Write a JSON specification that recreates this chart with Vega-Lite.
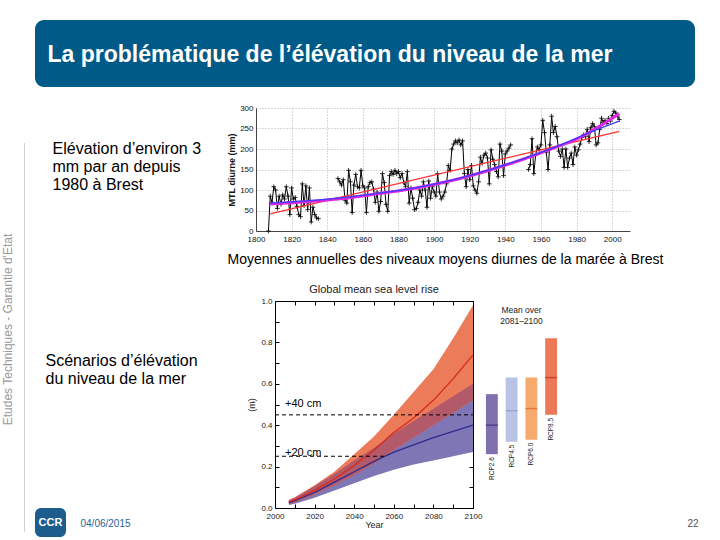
{
  "$schema": "https://vega.github.io/schema/vega-lite/v6.json",
  "padding": 0,
  "background": "white",
  "config": {
    "view": {"stroke": null},
    "concat": {"spacing": 0},
    "font": "Liberation Sans",
    "text": {"font": "Liberation Sans"},
    "title": {"font": "Liberation Sans"},
    "axis": {"labelFont": "Liberation Sans", "titleFont": "Liberation Sans", "labelOverlap": false, "labelFlush": false}
  },
  "datasets": {
    "brest": [
      {"year": 1807, "mtl": 0, "seg": 1}, {"year": 1808, "mtl": 85, "seg": 1}, {"year": 1809, "mtl": 70, "seg": 1}, {"year": 1810, "mtl": 108, "seg": 1},
      {"year": 1811, "mtl": 100, "seg": 1}, {"year": 1812, "mtl": 55, "seg": 1}, {"year": 1813, "mtl": 85, "seg": 1}, {"year": 1814, "mtl": 65, "seg": 1},
      {"year": 1815, "mtl": 88, "seg": 1}, {"year": 1816, "mtl": 78, "seg": 1}, {"year": 1817, "mtl": 108, "seg": 1}, {"year": 1818, "mtl": 85, "seg": 1},
      {"year": 1819, "mtl": 40, "seg": 1}, {"year": 1820, "mtl": 105, "seg": 1}, {"year": 1821, "mtl": 78, "seg": 1}, {"year": 1822, "mtl": 82, "seg": 1},
      {"year": 1823, "mtl": 60, "seg": 1}, {"year": 1824, "mtl": 40, "seg": 1}, {"year": 1825, "mtl": 35, "seg": 1}, {"year": 1826, "mtl": 115, "seg": 1},
      {"year": 1827, "mtl": 62, "seg": 1}, {"year": 1828, "mtl": 110, "seg": 1}, {"year": 1829, "mtl": 52, "seg": 1}, {"year": 1830, "mtl": 105, "seg": 1},
      {"year": 1831, "mtl": 22, "seg": 1}, {"year": 1832, "mtl": 58, "seg": 1}, {"year": 1833, "mtl": 40, "seg": 1}, {"year": 1834, "mtl": 32, "seg": 1},
      {"year": 1835, "mtl": 30, "seg": 1},
      {"year": 1846, "mtl": 128, "seg": 2}, {"year": 1847, "mtl": 120, "seg": 2}, {"year": 1848, "mtl": 112, "seg": 2}, {"year": 1849, "mtl": 125, "seg": 2},
      {"year": 1850, "mtl": 75, "seg": 2}, {"year": 1851, "mtl": 68, "seg": 2}, {"year": 1852, "mtl": 148, "seg": 2}, {"year": 1853, "mtl": 120, "seg": 2},
      {"year": 1854, "mtl": 45, "seg": 2}, {"year": 1855, "mtl": 112, "seg": 2}, {"year": 1856, "mtl": 138, "seg": 2}, {"year": 1857, "mtl": 108, "seg": 2},
      {"year": 1858, "mtl": 105, "seg": 2}, {"year": 1859, "mtl": 148, "seg": 2}, {"year": 1860, "mtl": 110, "seg": 2}, {"year": 1861, "mtl": 105, "seg": 2},
      {"year": 1862, "mtl": 45, "seg": 2}, {"year": 1863, "mtl": 108, "seg": 2}, {"year": 1864, "mtl": 118, "seg": 2}, {"year": 1865, "mtl": 120, "seg": 2},
      {"year": 1866, "mtl": 102, "seg": 2}, {"year": 1867, "mtl": 70, "seg": 2}, {"year": 1868, "mtl": 95, "seg": 2}, {"year": 1869, "mtl": 48, "seg": 2},
      {"year": 1870, "mtl": 72, "seg": 2}, {"year": 1871, "mtl": 140, "seg": 2}, {"year": 1872, "mtl": 118, "seg": 2}, {"year": 1873, "mtl": 65, "seg": 2},
      {"year": 1874, "mtl": 48, "seg": 2}, {"year": 1875, "mtl": 135, "seg": 2}, {"year": 1876, "mtl": 145, "seg": 2}, {"year": 1877, "mtl": 138, "seg": 2},
      {"year": 1878, "mtl": 148, "seg": 2}, {"year": 1879, "mtl": 140, "seg": 2}, {"year": 1880, "mtl": 145, "seg": 2}, {"year": 1881, "mtl": 130, "seg": 2},
      {"year": 1882, "mtl": 140, "seg": 2}, {"year": 1883, "mtl": 118, "seg": 2}, {"year": 1884, "mtl": 108, "seg": 2}, {"year": 1885, "mtl": 145, "seg": 2},
      {"year": 1886, "mtl": 68, "seg": 2}, {"year": 1887, "mtl": 105, "seg": 2}, {"year": 1888, "mtl": 80, "seg": 2}, {"year": 1889, "mtl": 52, "seg": 2},
      {"year": 1890, "mtl": 55, "seg": 2}, {"year": 1891, "mtl": 70, "seg": 2}, {"year": 1892, "mtl": 100, "seg": 2}, {"year": 1893, "mtl": 85, "seg": 2},
      {"year": 1894, "mtl": 120, "seg": 2}, {"year": 1895, "mtl": 100, "seg": 2}, {"year": 1896, "mtl": 58, "seg": 2}, {"year": 1897, "mtl": 122, "seg": 2},
      {"year": 1898, "mtl": 80, "seg": 2}, {"year": 1899, "mtl": 108, "seg": 2}, {"year": 1900, "mtl": 95, "seg": 2}, {"year": 1901, "mtl": 85, "seg": 2},
      {"year": 1902, "mtl": 140, "seg": 2}, {"year": 1903, "mtl": 95, "seg": 2}, {"year": 1904, "mtl": 78, "seg": 2}, {"year": 1905, "mtl": 85, "seg": 2},
      {"year": 1906, "mtl": 95, "seg": 2}, {"year": 1907, "mtl": 115, "seg": 2}, {"year": 1908, "mtl": 160, "seg": 2}, {"year": 1909, "mtl": 148, "seg": 2},
      {"year": 1910, "mtl": 200, "seg": 2}, {"year": 1911, "mtl": 212, "seg": 2}, {"year": 1912, "mtl": 220, "seg": 2}, {"year": 1913, "mtl": 215, "seg": 2},
      {"year": 1914, "mtl": 222, "seg": 2}, {"year": 1915, "mtl": 210, "seg": 2}, {"year": 1916, "mtl": 220, "seg": 2}, {"year": 1917, "mtl": 140, "seg": 2},
      {"year": 1918, "mtl": 108, "seg": 2}, {"year": 1919, "mtl": 150, "seg": 2}, {"year": 1920, "mtl": 125, "seg": 2}, {"year": 1921, "mtl": 160, "seg": 2},
      {"year": 1922, "mtl": 110, "seg": 2}, {"year": 1923, "mtl": 100, "seg": 2}, {"year": 1924, "mtl": 92, "seg": 2}, {"year": 1925, "mtl": 120, "seg": 2},
      {"year": 1926, "mtl": 180, "seg": 2}, {"year": 1927, "mtl": 165, "seg": 2}, {"year": 1928, "mtl": 185, "seg": 2}, {"year": 1929, "mtl": 190, "seg": 2},
      {"year": 1930, "mtl": 178, "seg": 2}, {"year": 1931, "mtl": 115, "seg": 2}, {"year": 1932, "mtl": 198, "seg": 2}, {"year": 1933, "mtl": 175, "seg": 2},
      {"year": 1934, "mtl": 162, "seg": 2}, {"year": 1935, "mtl": 145, "seg": 2}, {"year": 1936, "mtl": 132, "seg": 2}, {"year": 1937, "mtl": 212, "seg": 2},
      {"year": 1938, "mtl": 195, "seg": 2}, {"year": 1939, "mtl": 135, "seg": 2}, {"year": 1940, "mtl": 188, "seg": 2}, {"year": 1941, "mtl": 195, "seg": 2},
      {"year": 1942, "mtl": 202, "seg": 2}, {"year": 1943, "mtl": 210, "seg": 2},
      {"year": 1953, "mtl": 150, "seg": 3}, {"year": 1954, "mtl": 162, "seg": 3}, {"year": 1955, "mtl": 225, "seg": 3}, {"year": 1956, "mtl": 140, "seg": 3},
      {"year": 1957, "mtl": 185, "seg": 3}, {"year": 1958, "mtl": 205, "seg": 3}, {"year": 1959, "mtl": 198, "seg": 3}, {"year": 1960, "mtl": 210, "seg": 3},
      {"year": 1961, "mtl": 270, "seg": 3}, {"year": 1962, "mtl": 240, "seg": 3}, {"year": 1963, "mtl": 192, "seg": 3}, {"year": 1964, "mtl": 150, "seg": 3},
      {"year": 1965, "mtl": 210, "seg": 3}, {"year": 1966, "mtl": 280, "seg": 3}, {"year": 1967, "mtl": 240, "seg": 3}, {"year": 1968, "mtl": 255, "seg": 3},
      {"year": 1969, "mtl": 230, "seg": 3}, {"year": 1970, "mtl": 195, "seg": 3}, {"year": 1971, "mtl": 182, "seg": 3}, {"year": 1972, "mtl": 200, "seg": 3},
      {"year": 1973, "mtl": 155, "seg": 3}, {"year": 1974, "mtl": 200, "seg": 3}, {"year": 1975, "mtl": 155, "seg": 3}, {"year": 1976, "mtl": 178, "seg": 3},
      {"year": 1977, "mtl": 190, "seg": 3}, {"year": 1978, "mtl": 162, "seg": 3}, {"year": 1979, "mtl": 205, "seg": 3}, {"year": 1980, "mtl": 185, "seg": 3},
      {"year": 1981, "mtl": 198, "seg": 3}, {"year": 1982, "mtl": 212, "seg": 3}, {"year": 1983, "mtl": 228, "seg": 3}, {"year": 1984, "mtl": 235, "seg": 3},
      {"year": 1985, "mtl": 230, "seg": 3}, {"year": 1986, "mtl": 248, "seg": 3}, {"year": 1987, "mtl": 218, "seg": 3}, {"year": 1988, "mtl": 252, "seg": 3},
      {"year": 1989, "mtl": 262, "seg": 3}, {"year": 1990, "mtl": 255, "seg": 3}, {"year": 1991, "mtl": 210, "seg": 3}, {"year": 1992, "mtl": 215, "seg": 3},
      {"year": 1993, "mtl": 248, "seg": 3}, {"year": 1994, "mtl": 275, "seg": 3}, {"year": 1995, "mtl": 265, "seg": 3}, {"year": 1996, "mtl": 270, "seg": 3},
      {"year": 1997, "mtl": 262, "seg": 3}, {"year": 1998, "mtl": 275, "seg": 3}, {"year": 1999, "mtl": 268, "seg": 3}, {"year": 2000, "mtl": 282, "seg": 3},
      {"year": 2001, "mtl": 292, "seg": 3}, {"year": 2002, "mtl": 288, "seg": 3}, {"year": 2003, "mtl": 280, "seg": 3}, {"year": 2004, "mtl": 272, "seg": 3}
    ],
    "trends": [
      {"year": 1808, "fit": "linear", "v": 42}, {"year": 2004, "fit": "linear", "v": 243},
      {"year": 1808, "fit": "quad", "v": 68}, {"year": 1830, "fit": "quad", "v": 74}, {"year": 1850, "fit": "quad", "v": 82}, {"year": 1870, "fit": "quad", "v": 93},
      {"year": 1890, "fit": "quad", "v": 106}, {"year": 1910, "fit": "quad", "v": 124}, {"year": 1930, "fit": "quad", "v": 148}, {"year": 1950, "fit": "quad", "v": 176},
      {"year": 1970, "fit": "quad", "v": 208}, {"year": 1990, "fit": "quad", "v": 245}, {"year": 2004, "fit": "quad", "v": 268},
      {"year": 1808, "fit": "smooth", "v": 66}, {"year": 1830, "fit": "smooth", "v": 72}, {"year": 1850, "fit": "smooth", "v": 80}, {"year": 1870, "fit": "smooth", "v": 92},
      {"year": 1890, "fit": "smooth", "v": 105}, {"year": 1910, "fit": "smooth", "v": 123}, {"year": 1930, "fit": "smooth", "v": 147}, {"year": 1950, "fit": "smooth", "v": 175},
      {"year": 1970, "fit": "smooth", "v": 207}, {"year": 1980, "fit": "smooth", "v": 224}, {"year": 1990, "fit": "smooth", "v": 248}, {"year": 2004, "fit": "smooth", "v": 286}
    ],
    "proj": [
      {"year": 2007, "scenario": "RCP2.6", "lo": 0.015, "med": 0.025, "hi": 0.035},
      {"year": 2010, "scenario": "RCP2.6", "lo": 0.02, "med": 0.035, "hi": 0.05},
      {"year": 2020, "scenario": "RCP2.6", "lo": 0.05, "med": 0.075, "hi": 0.105},
      {"year": 2030, "scenario": "RCP2.6", "lo": 0.085, "med": 0.125, "hi": 0.165},
      {"year": 2040, "scenario": "RCP2.6", "lo": 0.12, "med": 0.175, "hi": 0.23},
      {"year": 2050, "scenario": "RCP2.6", "lo": 0.155, "med": 0.225, "hi": 0.29},
      {"year": 2060, "scenario": "RCP2.6", "lo": 0.185, "med": 0.27, "hi": 0.36},
      {"year": 2070, "scenario": "RCP2.6", "lo": 0.21, "med": 0.305, "hi": 0.42},
      {"year": 2080, "scenario": "RCP2.6", "lo": 0.23, "med": 0.34, "hi": 0.48},
      {"year": 2090, "scenario": "RCP2.6", "lo": 0.25, "med": 0.37, "hi": 0.54},
      {"year": 2100, "scenario": "RCP2.6", "lo": 0.27, "med": 0.40, "hi": 0.60},
      {"year": 2007, "scenario": "RCP8.5", "lo": 0.02, "med": 0.03, "hi": 0.04},
      {"year": 2010, "scenario": "RCP8.5", "lo": 0.028, "med": 0.04, "hi": 0.052},
      {"year": 2020, "scenario": "RCP8.5", "lo": 0.065, "med": 0.085, "hi": 0.11},
      {"year": 2030, "scenario": "RCP8.5", "lo": 0.11, "med": 0.14, "hi": 0.175},
      {"year": 2040, "scenario": "RCP8.5", "lo": 0.16, "med": 0.205, "hi": 0.26},
      {"year": 2050, "scenario": "RCP8.5", "lo": 0.215, "med": 0.28, "hi": 0.345},
      {"year": 2060, "scenario": "RCP8.5", "lo": 0.28, "med": 0.365, "hi": 0.45},
      {"year": 2070, "scenario": "RCP8.5", "lo": 0.34, "med": 0.435, "hi": 0.56},
      {"year": 2080, "scenario": "RCP8.5", "lo": 0.40, "med": 0.52, "hi": 0.67},
      {"year": 2090, "scenario": "RCP8.5", "lo": 0.46, "med": 0.625, "hi": 0.82},
      {"year": 2100, "scenario": "RCP8.5", "lo": 0.52, "med": 0.74, "hi": 0.98}
    ],
    "overlap": [
      {"year": 2007, "lo": 0.02, "hi": 0.035}, {"year": 2010, "lo": 0.028, "hi": 0.05}, {"year": 2020, "lo": 0.065, "hi": 0.105},
      {"year": 2030, "lo": 0.11, "hi": 0.165}, {"year": 2040, "lo": 0.16, "hi": 0.23}, {"year": 2050, "lo": 0.215, "hi": 0.29},
      {"year": 2060, "lo": 0.28, "hi": 0.36}, {"year": 2070, "lo": 0.34, "hi": 0.42}, {"year": 2080, "lo": 0.40, "hi": 0.48},
      {"year": 2090, "lo": 0.46, "hi": 0.54}, {"year": 2100, "lo": 0.52, "hi": 0.60}
    ],
    "levels": [
      {"label": "+40 cm", "level": 0.45, "x0": 2000, "x1": 2100},
      {"label": "+20 cm", "level": 0.25, "x0": 2000, "x1": 2055}
    ],
    "boxes": [
      {"scenario": "RCP2.6", "lo": 0.26, "med": 0.40, "hi": 0.55},
      {"scenario": "RCP4.5", "lo": 0.32, "med": 0.47, "hi": 0.63},
      {"scenario": "RCP6.0", "lo": 0.33, "med": 0.48, "hi": 0.63},
      {"scenario": "RCP8.5", "lo": 0.45, "med": 0.63, "hi": 0.82}
    ]
  },
  "bounds": "flush",
  "spacing": 0,
  "vconcat": [
    {"bounds": "flush", "spacing": 0, "vconcat": [
      {"width": 1, "height": 20, "data": {"values": [{}]}, "mark": {"type": "rect", "opacity": 0}, "encoding": {}},
      {"bounds": "flush", "spacing": 0, "hconcat": [
        {"width": 35, "height": 1, "data": {"values": [{}]}, "mark": {"type": "rect", "opacity": 0}, "encoding": {}},
        {"width": 660, "height": 67, "data": {"values": [{}]}, "mark": {"type": "rect", "color": "#005a87", "cornerRadius": 9}, "encoding": {}}
      ]}
    ]},
    {"bounds": "flush", "spacing": 0, "vconcat": [
      {"width": 1, "height": 61, "data": {"values": [{}]}, "mark": {"type": "rect", "opacity": 0}, "encoding": {}},
      {"bounds": "flush", "spacing": 0, "hconcat": [
        {"width": 47, "height": 1, "data": {"values": [{}]}, "mark": {"type": "rect", "opacity": 0}, "encoding": {}},
        {"width": 1, "height": 1, "data": {"values": [{}]}, "mark": {"type": "text", "text": "La problématique de l’élévation du niveau de la mer", "align": "left", "baseline": "alphabetic", "fontSize": 23, "fontWeight": "bold", "color": "white"}, "encoding": {}}
      ]}
    ]},
    {"bounds": "flush", "spacing": 0, "vconcat": [
      {"width": 1, "height": 329, "data": {"values": [{}]}, "mark": {"type": "rect", "opacity": 0}, "encoding": {}},
      {"width": 16, "height": 1, "data": {"values": [{}]}, "mark": {"type": "text", "text": "Etudes Techniques - Garantie d'Etat", "angle": 270, "align": "center", "baseline": "middle", "fontSize": 12, "color": "#9a9a9a"}, "encoding": {}}
    ]},
    {"bounds": "flush", "spacing": 0, "vconcat": [
      {"width": 1, "height": 143, "data": {"values": [{}]}, "mark": {"type": "rect", "opacity": 0}, "encoding": {}},
      {"bounds": "flush", "spacing": 0, "hconcat": [
        {"width": 24, "height": 1, "data": {"values": [{}]}, "mark": {"type": "rect", "opacity": 0}, "encoding": {}},
        {"width": 1, "height": 389, "data": {"values": [{}]}, "mark": {"type": "rect", "color": "#cfcfcf"}, "encoding": {}}
      ]}
    ]},
    {"bounds": "flush", "spacing": 0, "vconcat": [
      {"width": 1, "height": 153, "data": {"values": [{}]}, "mark": {"type": "rect", "opacity": 0}, "encoding": {}},
      {"bounds": "flush", "spacing": 0, "hconcat": [
        {"width": 52, "height": 1, "data": {"values": [{}]}, "mark": {"type": "rect", "opacity": 0}, "encoding": {}},
        {"width": 1, "height": 1, "data": {"values": [{}]}, "mark": {"type": "text", "text": ["Elévation d’environ 3", "mm par an depuis", "1980 à Brest"], "align": "left", "baseline": "alphabetic", "fontSize": 16, "lineHeight": 18, "color": "black"}, "encoding": {}}
      ]}
    ]},
    {"bounds": "flush", "spacing": 0, "vconcat": [
      {"width": 1, "height": 365, "data": {"values": [{}]}, "mark": {"type": "rect", "opacity": 0}, "encoding": {}},
      {"bounds": "flush", "spacing": 0, "hconcat": [
        {"width": 45, "height": 1, "data": {"values": [{}]}, "mark": {"type": "rect", "opacity": 0}, "encoding": {}},
        {"width": 1, "height": 1, "data": {"values": [{}]}, "mark": {"type": "text", "text": ["Scénarios d’élévation", "du niveau de la mer"], "align": "left", "baseline": "alphabetic", "fontSize": 16, "lineHeight": 18, "color": "black"}, "encoding": {}}
      ]}
    ]},
    {"bounds": "flush", "spacing": 0, "vconcat": [
      {"width": 1, "height": 108, "data": {"values": [{}]}, "mark": {"type": "rect", "opacity": 0}, "encoding": {}},
      {"bounds": "flush", "spacing": 0, "hconcat": [
        {"width": 256, "height": 1, "data": {"values": [{}]}, "mark": {"type": "rect", "opacity": 0}, "encoding": {}},
        {
          "width": 374, "height": 123,
          "resolve": {"axis": {"x": "independent", "y": "independent"}},
          "layer": [
            {"data": {"name": "brest"}, "mark": {"type": "line", "color": "black", "strokeWidth": 1},
             "encoding": {
               "x": {"field": "year", "type": "quantitative", "scale": {"domain": [1800, 2010], "nice": false, "zero": false},
                     "axis": {"orient": "bottom", "values": [1800, 1820, 1840, 1860, 1880, 1900, 1920, 1940, 1960, 1980, 2000], "format": "d", "grid": true, "gridColor": "#b0b0b0", "gridDash": [1, 2], "ticks": false, "labelFontSize": 8, "labelColor": "#111", "labelPadding": 4, "labelFlush": false, "labelOverlap": false, "domainColor": "#444", "title": null}},
               "y": {"field": "mtl", "type": "quantitative", "scale": {"domain": [0, 300], "nice": false},
                     "axis": {"orient": "left", "values": [0, 50, 100, 150, 200, 250, 300], "format": "d", "grid": true, "gridColor": "#b0b0b0", "gridDash": [1, 2], "ticks": false, "labelFontSize": 8, "labelColor": "#111", "labelPadding": 3, "labelOverlap": false, "labelBaseline": "middle", "domainColor": "#444", "title": "MTL diurne (mm)", "titleFontSize": 9, "titleFontWeight": "bold", "titleColor": "#111", "titlePadding": 3}},
               "detail": {"field": "seg", "type": "nominal"}
             }},
            {"data": {"name": "brest"}, "mark": {"type": "point", "shape": "M-1,0H1M0,-1V1", "size": 22, "color": "black", "strokeWidth": 0.8, "filled": false, "opacity": 1},
             "encoding": {"x": {"field": "year", "type": "quantitative", "axis": null}, "y": {"field": "mtl", "type": "quantitative", "axis": null}}},
            {"data": {"name": "trends"}, "transform": [{"filter": "datum.fit == 'linear'"}], "mark": {"type": "line", "color": "#ff3030", "strokeWidth": 1.3},
             "encoding": {"x": {"field": "year", "type": "quantitative", "axis": null}, "y": {"field": "v", "type": "quantitative", "axis": null}}},
            {"data": {"name": "trends"}, "transform": [{"filter": "datum.fit == 'smooth'"}], "mark": {"type": "line", "color": "#e028e0", "strokeWidth": 3, "interpolate": "monotone"},
             "encoding": {"x": {"field": "year", "type": "quantitative", "axis": null}, "y": {"field": "v", "type": "quantitative", "axis": null}}},
            {"data": {"name": "trends"}, "transform": [{"filter": "datum.fit == 'quad'"}], "mark": {"type": "line", "color": "#3c3cff", "strokeWidth": 1.3, "interpolate": "monotone"},
             "encoding": {"x": {"field": "year", "type": "quantitative", "axis": null}, "y": {"field": "v", "type": "quantitative", "axis": null}}}
          ]
        }
      ]}
    ]},
    {"bounds": "flush", "spacing": 0, "vconcat": [
      {"width": 1, "height": 263, "data": {"values": [{}]}, "mark": {"type": "rect", "opacity": 0}, "encoding": {}},
      {"bounds": "flush", "spacing": 0, "hconcat": [
        {"width": 227, "height": 1, "data": {"values": [{}]}, "mark": {"type": "rect", "opacity": 0}, "encoding": {}},
        {"width": 1, "height": 1, "data": {"values": [{}]}, "mark": {"type": "text", "text": "Moyennes annuelles des niveaux moyens diurnes de la marée à Brest", "align": "left", "baseline": "alphabetic", "fontSize": 14, "color": "black"}, "encoding": {}}
      ]}
    ]},
    {"bounds": "flush", "spacing": 0, "vconcat": [
      {"width": 1, "height": 301, "data": {"values": [{}]}, "mark": {"type": "rect", "opacity": 0}, "encoding": {}},
      {"bounds": "flush", "spacing": 0, "hconcat": [
        {"width": 275, "height": 1, "data": {"values": [{}]}, "mark": {"type": "rect", "opacity": 0}, "encoding": {}},
        {
          "width": 198, "height": 207,
          "view": {"stroke": "black", "strokeWidth": 1},
          "title": {"text": "Global mean sea level rise", "fontSize": 11, "fontWeight": "normal", "color": "#222", "offset": 2, "frame": "group"},
          "resolve": {"axis": {"x": "independent", "y": "independent"}},
          "layer": [
            {"data": {"name": "proj"}, "transform": [{"filter": "datum.scenario == 'RCP2.6'"}], "mark": {"type": "area", "color": "#7f76b5", "opacity": 1},
             "encoding": {
               "x": {"field": "year", "type": "quantitative", "scale": {"domain": [2000, 2100], "nice": false, "zero": false},
                     "axis": {"orient": "bottom", "values": [2000, 2010, 2020, 2030, 2040, 2050, 2060, 2070, 2080, 2090, 2100], "format": "d", "labelExpr": "datum.value % 20 == 0 ? datum.label : ''", "tickSize": -4, "tickColor": "black", "labelPadding": 8, "labelFontSize": 8, "labelColor": "#222", "labelFlush": false, "labelOverlap": false, "domain": false, "grid": false, "title": "Year", "titleFontSize": 9, "titleFontWeight": "normal", "titleColor": "#222", "titlePadding": 0}},
               "y": {"field": "lo", "type": "quantitative", "scale": {"domain": [0, 1], "nice": false},
                     "axis": {"orient": "left", "values": [0, 0.1, 0.2, 0.3, 0.4, 0.5, 0.6, 0.7, 0.8, 0.9, 1.0], "labelExpr": "round(datum.value * 10) % 2 == 0 ? format(datum.value, '.1f') : ''", "tickSize": -4, "tickColor": "black", "labelPadding": 7, "labelFontSize": 8, "labelColor": "#222", "labelOverlap": false, "labelBaseline": "middle", "domain": false, "grid": false, "title": "(m)", "titleFontSize": 9, "titleFontWeight": "normal", "titleColor": "#222", "titlePadding": 4}},
               "y2": {"field": "hi"}
             }},
            {"data": {"name": "proj"}, "transform": [{"filter": "datum.scenario == 'RCP8.5'"}], "mark": {"type": "area", "color": "#ec7b5a", "opacity": 1},
             "encoding": {"x": {"field": "year", "type": "quantitative", "axis": null}, "y": {"field": "lo", "type": "quantitative", "axis": null}, "y2": {"field": "hi"}}},
            {"data": {"name": "overlap"}, "mark": {"type": "area", "color": "#b35a6a", "opacity": 1},
             "encoding": {"x": {"field": "year", "type": "quantitative", "axis": null}, "y": {"field": "lo", "type": "quantitative", "axis": null}, "y2": {"field": "hi"}}},
            {"data": {"name": "proj"}, "mark": {"type": "line", "strokeWidth": 1.3},
             "encoding": {"x": {"field": "year", "type": "quantitative", "axis": null}, "y": {"field": "med", "type": "quantitative", "axis": null},
                          "color": {"field": "scenario", "type": "nominal", "scale": {"domain": ["RCP2.6", "RCP8.5"], "range": ["#2c2c8c", "#d8281c"]}, "legend": null}}},
            {"data": {"name": "levels"}, "mark": {"type": "rule", "strokeDash": [4, 3], "color": "black", "strokeWidth": 1},
             "encoding": {
               "x": {"field": "x0", "type": "quantitative", "axis": {"orient": "top", "values": [2000, 2010, 2020, 2030, 2040, 2050, 2060, 2070, 2080, 2090, 2100], "labels": false, "tickSize": -4, "tickColor": "black", "domain": false, "grid": false, "title": null}},
               "x2": {"field": "x1"},
               "y": {"field": "level", "type": "quantitative", "axis": {"orient": "right", "values": [0, 0.1, 0.2, 0.3, 0.4, 0.5, 0.6, 0.7, 0.8, 0.9, 1.0], "labels": false, "tickSize": -4, "tickColor": "black", "domain": false, "grid": false, "title": null}}
             }},
            {"data": {"name": "levels"}, "transform": [{"filter": "datum.label == '+40 cm'"}], "mark": {"type": "text", "align": "left", "baseline": "alphabetic", "fontSize": 11, "dx": 10, "dy": -8, "color": "black"},
             "encoding": {"x": {"field": "x0", "type": "quantitative", "axis": null}, "y": {"field": "level", "type": "quantitative", "axis": null}, "text": {"field": "label"}}},
            {"data": {"name": "levels"}, "transform": [{"filter": "datum.label == '+20 cm'"}], "mark": {"type": "text", "align": "left", "baseline": "alphabetic", "fontSize": 11, "dx": 10, "dy": 0, "color": "black"},
             "encoding": {"x": {"field": "x0", "type": "quantitative", "axis": null}, "y": {"field": "level", "type": "quantitative", "axis": null}, "text": {"field": "label"}}}
          ]
        },
        {"width": 9, "height": 1, "data": {"values": [{}]}, "mark": {"type": "rect", "opacity": 0}, "encoding": {}},
        {
          "width": 79, "height": 207,
          "data": {"name": "boxes"},
          "resolve": {"scale": {"color": "independent"}},
          "layer": [
            {"mark": {"type": "bar"},
             "encoding": {
               "x": {"field": "scenario", "type": "nominal", "sort": null, "scale": {"paddingInner": 0.4, "paddingOuter": 0.2}, "axis": null},
               "y": {"field": "lo", "type": "quantitative", "scale": {"domain": [0, 1], "nice": false}, "axis": null},
               "y2": {"field": "hi"},
               "color": {"field": "scenario", "type": "nominal", "scale": {"domain": ["RCP2.6", "RCP4.5", "RCP6.0", "RCP8.5"], "range": ["#8070b0", "#b9c3e5", "#f7aa6e", "#ec7a58"]}, "legend": null}
             }},
            {"mark": {"type": "tick", "thickness": 1.5, "size": 12},
             "encoding": {
               "x": {"field": "scenario", "type": "nominal", "sort": null, "axis": null},
               "y": {"field": "med", "type": "quantitative", "axis": null},
               "color": {"field": "scenario", "type": "nominal", "scale": {"domain": ["RCP2.6", "RCP4.5", "RCP6.0", "RCP8.5"], "range": ["#3d2a80", "#8e9bd0", "#e06a25", "#c52a1a"]}, "legend": null}
             }},
            {"mark": {"type": "text", "angle": 270, "align": "right", "baseline": "middle", "fontSize": 6.5, "dx": -3, "color": "#222"},
             "encoding": {
               "x": {"field": "scenario", "type": "nominal", "sort": null, "axis": null},
               "y": {"field": "lo", "type": "quantitative", "axis": null},
               "text": {"field": "scenario"}
             }},
            {"data": {"values": [{}]}, "mark": {"type": "text", "text": ["Mean over", "2081–2100"], "fontSize": 8.5, "lineHeight": 10.5, "baseline": "top", "align": "center", "color": "#222"},
             "encoding": {"y": {"datum": 0.975, "type": "quantitative", "axis": null}}}
          ]
        }
      ]}
    ]},
    {"bounds": "flush", "spacing": 0, "vconcat": [
      {"width": 1, "height": 508, "data": {"values": [{}]}, "mark": {"type": "rect", "opacity": 0}, "encoding": {}},
      {"bounds": "flush", "spacing": 0, "hconcat": [
        {"width": 35, "height": 1, "data": {"values": [{}]}, "mark": {"type": "rect", "opacity": 0}, "encoding": {}},
        {"width": 31, "height": 29, "data": {"values": [{}]},
         "layer": [
           {"mark": {"type": "rect", "color": "#1d5d8e", "cornerRadius": 6}, "encoding": {}},
           {"mark": {"type": "text", "text": "CCR", "fontSize": 11, "fontWeight": "bold", "color": "white", "align": "center", "baseline": "middle"}, "encoding": {}}
         ]}
      ]}
    ]},
    {"bounds": "flush", "spacing": 0, "vconcat": [
      {"width": 1, "height": 526, "data": {"values": [{}]}, "mark": {"type": "rect", "opacity": 0}, "encoding": {}},
      {"bounds": "flush", "spacing": 0, "hconcat": [
        {"width": 80, "height": 1, "data": {"values": [{}]}, "mark": {"type": "rect", "opacity": 0}, "encoding": {}},
        {"width": 1, "height": 1, "data": {"values": [{}]}, "mark": {"type": "text", "text": "04/06/2015", "align": "left", "baseline": "alphabetic", "fontSize": 10, "color": "#2a6496"}, "encoding": {}}
      ]}
    ]},
    {"bounds": "flush", "spacing": 0, "vconcat": [
      {"width": 1, "height": 526, "data": {"values": [{}]}, "mark": {"type": "rect", "opacity": 0}, "encoding": {}},
      {"bounds": "flush", "spacing": 0, "hconcat": [
        {"width": 698, "height": 1, "data": {"values": [{}]}, "mark": {"type": "rect", "opacity": 0}, "encoding": {}},
        {"width": 1, "height": 1, "data": {"values": [{}]}, "mark": {"type": "text", "text": "22", "align": "right", "baseline": "alphabetic", "fontSize": 10, "color": "#555555"}, "encoding": {}}
      ]}
    ]},
    {"width": 720, "height": 540, "data": {"values": [{}]}, "mark": {"type": "rect", "opacity": 0}, "encoding": {}}
  ]
}
